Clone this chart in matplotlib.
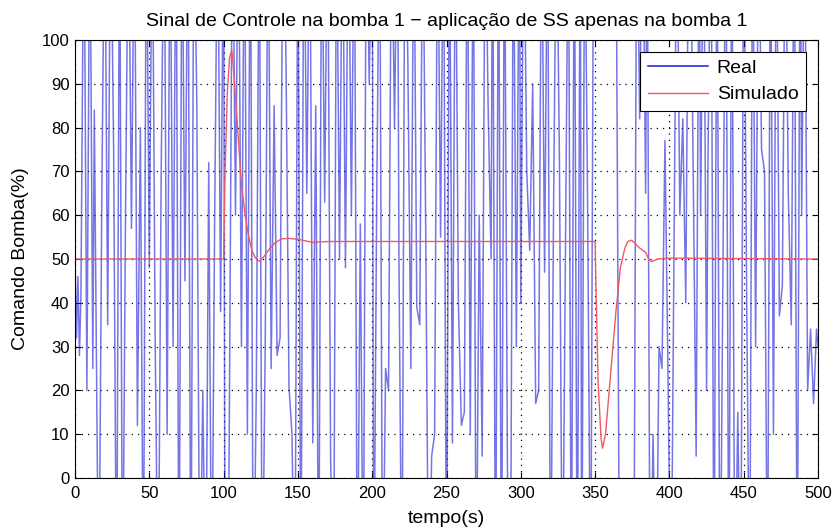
import matplotlib
matplotlib.use("Agg")
import matplotlib.pyplot as plt

plt.rcParams['font.family'] = ['Liberation Sans', 'DejaVu Sans']

# Real pump command (turning points; peaks beyond the
# axis limits are clipped by the axes, as in the original)
real_t = [0, 1, 2, 3, 4, 6, 8, 10, 12, 13, 16, 18, 20, 22, 24, 26, 28, 30, 32, 34,
          36, 38, 40, 42, 44, 46, 48, 50, 52, 54, 56, 58, 60, 62, 64, 66, 68, 70, 72, 74,
          76, 78, 80, 82, 84, 86, 88, 90, 92, 94, 96, 98, 100, 101, 103, 106, 108, 110, 112, 114,
          116, 118, 120, 122, 124, 126, 128, 130, 132, 134, 136, 138, 140, 142, 144, 146, 148, 150, 152, 154,
          156, 158, 160, 162, 164, 166, 168, 170, 172, 174, 176, 178, 180, 182, 184, 186, 188, 190, 192, 194,
          196, 198, 200, 201, 203, 205, 207, 209, 211, 213, 215, 217, 218, 220, 222, 224, 226, 228, 230, 232,
          234, 236, 238, 240, 242, 244, 246, 248, 250, 252, 254, 256, 258, 260, 262, 264, 266, 268, 270, 272,
          274, 276, 278, 280, 281, 283, 285, 287, 289, 291, 293, 295, 297, 299, 300, 302, 304, 306, 308, 310,
          312, 314, 316, 318, 320, 322, 324, 326, 328, 330, 332, 334, 336, 338, 340, 341, 343, 345, 347, 349,
          350, 364, 366.5, 376, 378, 380, 382, 384, 385, 387, 389, 391, 393, 395, 397, 399, 401, 402, 405, 407,
          409, 411, 413, 414, 416, 418, 420, 421, 423, 425, 426, 428, 430, 432, 434, 435, 438, 440, 442, 444,
          446, 448, 450, 452, 454, 456, 458, 460, 462, 464, 466, 468, 470, 472, 474, 476, 478, 480, 482, 484,
          486, 488, 489, 491, 493, 495, 497, 499, 500]
real_v = [50, 32, 46, 28, 42, 135, 20, 135, 25, 84, -35, 62, 135, 35, 135, 75, -35, 135, -35, 60,
          135, 57, 135, 12, 80, -35, 135, 48, 135, 30, -35, 70, 135, 10, 135, 30, 135, -35, 135, 45,
          135, -35, 135, 85, -35, 20, -35, 72, -35, 60, 135, 38, 135, -35, -35, 135, 60, 135, 30, 135,
          10, 135, -35, 20, 135, -35, 30, 135, 25, 85, 28, 32, 135, 95, 21, 10, -35, 135, -35, 135,
          65, 135, 8, 85, -35, 135, 63, 135, 5, -35, 135, 50, 135, 48, 135, 60, 135, -35, 58, -35,
          135, 90, 135, -35, 62, 135, -35, 25, 20, 135, 80, 135, 50, -35, 135, 95, 25, 135, 39, 35,
          135, 57, -35, 5, 10, 135, 55, 135, -35, 135, 8, 135, 40, 12, 15, 135, 10, 135, -35, 60,
          5, 135, 85, 50, 135, -35, 135, -35, 135, 2, -35, 135, 30, 135, 40, 135, 70, 52, 90, 17,
          20, 135, 47, 135, -35, 60, 135, 72, -35, 50, 135, -35, 135, -35, 135, -35, 135, 60, -35, 135,
          135, 135, -35, -35, 135, 82, 135, 65, 135, -35, 10, -35, 30, 25, 77, 25, -35, 5, 135, 60,
          82, 40, 135, 135, 70, 5, 135, 60, 135, 20, 74, 135, -35, 135, -35, 3, 135, -35, 135, -35,
          15, -35, 135, 40, -35, 135, 30, 135, 75, 70, -35, 135, 10, 135, 37, 44, 135, 65, 35, 135,
          -35, 135, 60, 135, 20, 34, 17, 34, 30]

# Simulated pump command
sim_t = [0, 100, 101, 102.5, 104, 105.5, 107, 109, 112, 114.5, 116.7, 119, 121, 123, 124.5,
         127, 131, 135, 139, 144, 150, 160, 170, 350, 350.5, 352, 354, 355, 357, 360, 364,
         367, 370, 372, 374.6, 377, 380, 384, 386, 388, 392, 400, 500]
sim_v = [50, 50, 70, 88, 96, 97.7, 92, 82, 67, 60, 55.5, 52, 50.5, 49.6, 49.5,
         50.5, 52.4, 53.8, 54.6, 54.7, 54.5, 53.8, 54, 54, 45, 22, 9, 6.8, 10, 22, 38,
         48, 52.5, 54, 54.3, 53.5, 52.5, 51.5, 50, 49.4, 50, 50.2, 50]

x_ticks = list(range(0, 501, 50))
y_ticks = list(range(0, 101, 10))

fig = plt.figure(figsize=(8.36, 5.28), dpi=100)
ax = fig.add_axes([0.0897, 0.0947, 0.8888, 0.8295])

ax.plot(real_t, real_v, color='#1a1ad6', lw=1.1, alpha=0.6, label='Real')
ax.plot(sim_t, sim_v, color='#ee5a64', lw=1.0, label='Simulado')

ax.set_xlim(0, 500)
ax.set_ylim(0, 100)
ax.set_xticks(x_ticks)
ax.set_yticks(y_ticks)
ax.tick_params(direction='in', length=4, top=True, right=True, labelsize=12)
ax.tick_params(axis='x', pad=6)
ax.tick_params(axis='y', pad=4)
ax.grid(True, color='black', linestyle=(0, (1, 4)), linewidth=0.9)
for s in ax.spines.values():
    s.set_linewidth(0.8)

ax.set_title('Sinal de Controle na bomba 1 \u2212 aplicação de SS apenas na bomba 1', fontsize=14, pad=10)
ax.set_xlabel('tempo(s)', fontsize=14, labelpad=6)
ax.set_ylabel('Comando Bomba(%)', fontsize=14, labelpad=9)

leg = ax.legend(loc='upper right', fontsize=14, fancybox=False, framealpha=1,
                edgecolor='black', borderaxespad=0.6, handlelength=3.1,
                labelspacing=0.45, borderpad=0.4, handletextpad=0.45)
leg.get_frame().set_linewidth(0.8)
for line in leg.get_lines():
    line.set_alpha(1.0)

fig.savefig('out.png', dpi=100)
